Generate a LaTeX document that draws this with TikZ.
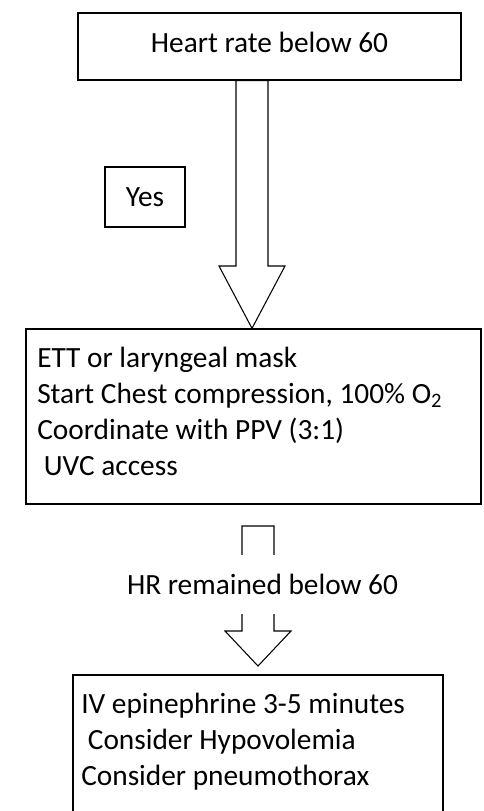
\documentclass[tikz,border=0pt]{standalone}
\usepackage{fontspec}
\setmainfont{Carlito}
\begin{document}
\begin{tikzpicture}[x=0.75pt,y=-0.75pt]
            \tikzstyle{boite}=[draw,line width=1pt,inner sep=0pt,font=\fontsize{22}{26.9}\selectfont]
            \tikzstyle{texte}=[inner sep=0pt,align=left,font=\fontsize{22}{26.9}\selectfont]
            \tikzstyle{fleche}=[draw,line width=0.8pt,line join=miter]
            \useasboundingbox (0,0) rectangle (483,811);
            \clip (0,0) rectangle (483,811);
            \node[boite,minimum width=287.25pt,minimum height=50.25pt,text depth=7pt] (hr) at (269.5,46.5) {Heart rate below 60};
            \node[boite,minimum width=60pt,minimum height=45pt] (yes) at (145,197) {Yes};
            \node[boite,minimum width=341.25pt,minimum height=131.25pt] (cpr) at (253.5,416.5) {};
            \node[texte,anchor=base west] (cprtxt) at (37,475) {ETT or laryngeal mask\\Start Chest compression, 100\% O\textsubscript{2}\\Coordinate with PPV (3:1)\\\mbox{} UVC access};
            \node[boite,minimum width=277.5pt,minimum height=116.25pt] (iv) at (258,752.5) {};
            \node[texte,anchor=base west] (ivtxt) at (81,785) {IV epinephrine 3-5 minutes\\\mbox{} Consider Hypovolemia\\Consider pneumothorax};
            % grosse fleche
            \draw[fleche] (236,0 |- hr.south) -- (236,266) -- (219,266) -- (252,0 |- cpr.north) -- (285,266) -- (268,266) -- (268,0 |- hr.south) -- cycle;
            % fleche coupee par le texte
            \draw[fleche] (242,526) -- (242,631) -- (225,631) -- (258,666) -- (291,631) -- (274,631) -- (274,526) -- cycle;
            \node[texte,fill=white,minimum height=44.25pt] (hrlow) at (262.5,584.5) {HR remained below 60};
\end{tikzpicture}
\end{document}
